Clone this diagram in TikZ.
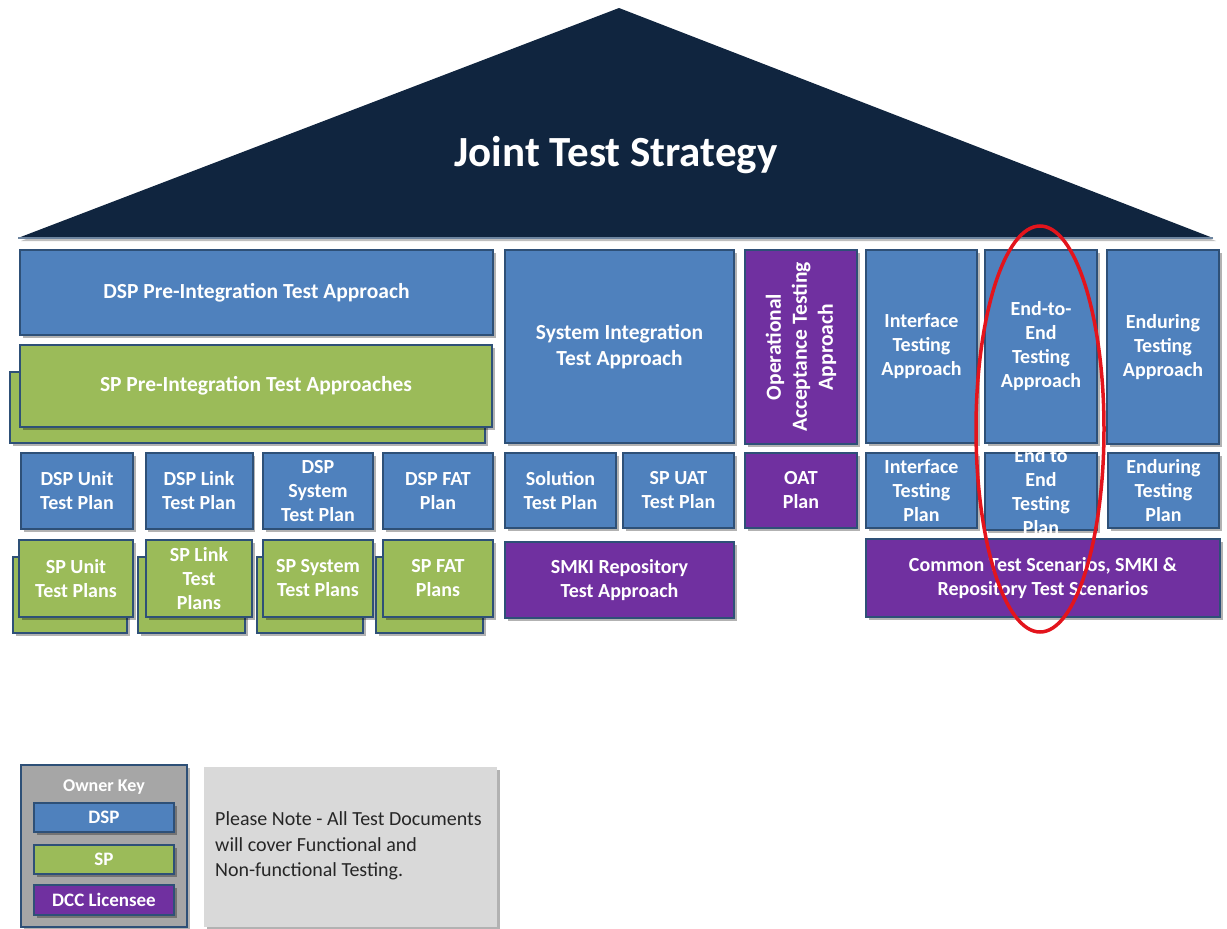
\documentclass[tikz,border=0pt]{standalone}
\usepackage{fontspec}
\setmainfont{Carlito}
\usetikzlibrary{shadows}
\definecolor{roofnavy}{HTML}{10253F}
\definecolor{dspblue}{HTML}{4F81BD}
\definecolor{spgreen}{HTML}{9BBB59}
\definecolor{dccpurple}{HTML}{7030A0}
\definecolor{edgeblue}{HTML}{2E5077}
\definecolor{keygrey}{HTML}{A6A6A6}
\definecolor{notegrey}{HTML}{D9D9D9}
\definecolor{ringred}{HTML}{E3141C}
\begin{document}
\begin{tikzpicture}[x=1pt,y=-1pt,
  box/.style={draw=edgeblue,line width=2pt,inner sep=1pt,align=center,
    text=white,font=\bfseries\fontsize{20}{24}\selectfont,
    drop shadow={shadow xshift=2.5pt,shadow yshift=-2.5pt,opacity=0.3,fill=black}},
  dsp/.style={box,fill=dspblue},
  sp/.style={box,fill=spgreen},
  dcc/.style={box,fill=dccpurple},
  big/.style={font=\bfseries\fontsize{21.5}{26}\selectfont},
  lbl/.style={align=center,text=white,inner sep=0pt,font=\bfseries\fontsize{20}{24}\selectfont},
  wh/.style 2 args={minimum width=#1pt,minimum height=#2pt}]
\useasboundingbox (0,0) rectangle (1227,929);

% roof
\fill[black,opacity=0.25] (21,241) -- (622,11) -- (1216,241) -- cycle;
\fill[roofnavy] (18,238) -- (619,8) -- (1213,238) -- cycle;
\draw[edgeblue!70!white,line width=1.2pt] (18,238) -- (1213,238);
\node[text=white,font=\bfseries\fontsize{43}{50}\selectfont] (title) at (616,155) {Joint Test Strategy};

% left block: pre-integration approaches
\node[dsp,big,wh={473}{85}] (dsppre) at (256.5,292.5) {DSP Pre-Integration Test Approach};
\node[sp,wh={475}{71}] (spprebk) at (247.5,407.5) {};
\node[sp,big,wh={472}{82}] (sppre) at (256,386) {SP Pre-Integration Test Approaches};

% left block: plans
\node[dsp,wh={112}{76}] (dspunit) at (77,491) {DSP Unit\\Test Plan};
\node[dsp,wh={107}{76}] (dsplink) at (199,491) {DSP Link\\Test Plan};
\node[dsp,wh={110}{76}] (dspsys) at (318,491) {DSP\\System\\Test Plan};
\node[dsp,wh={110}{76}] (dspfat) at (438,491) {DSP FAT\\Plan};

\node[sp,wh={114}{76}] (spunitbk) at (70,595) {};
\node[sp,wh={114}{77}] (spunit) at (76,578.5) {SP Unit\\Test Plans};
\node[sp,wh={107}{76}] (splinkbk) at (191.5,595) {};
\node[sp,wh={106}{77}] (splink) at (199,578.5) {SP Link\\Test\\Plans};
\node[sp,wh={106}{76}] (spsysbk) at (310,595) {};
\node[sp,wh={110}{77}] (spsys) at (318,578.5) {SP System\\Test Plans};
\node[sp,wh={107}{76}] (spfatbk) at (429.5,595) {};
\node[sp,wh={110}{77}] (spfat) at (438,578.5) {SP FAT\\Plans};

% system integration
\node[dsp,big,wh={229}{193}] (sysint) at (619.5,346.5) {System Integration\\Test Approach};
\node[dsp,wh={111}{75}] (soltp) at (560.5,490.5) {Solution\\Test Plan};
\node[dsp,wh={111}{75}] (spuat) at (678.5,490.5) {SP UAT\\Test Plan};
\node[dcc,wh={229}{76}] (smki) at (619.5,580) {SMKI Repository\\Test Approach};

% operational acceptance
\node[dcc,wh={112}{194}] (oata) at (801,347) {};
\node[lbl,rotate=90,font=\bfseries\fontsize{21.5}{26}\selectfont] (oatatext) at (oata.center) {Operational\\Acceptance Testing\\Approach};
\node[dcc,wh={112}{75}] (oatp) at (801,490.5) {OAT\\Plan};

% interface, end-to-end, enduring
\node[dsp,wh={111}{193}] (ifa) at (921.5,346.5) {Interface\\Testing\\Approach};
\node[dsp,wh={112}{193}] (e2ea) at (1041,346.5) {End-to-\\End\\Testing\\Approach};
\node[dsp,wh={112}{194}] (enda) at (1163,347) {Enduring\\Testing\\Approach};
\node[dsp,wh={111}{75}] (ifp) at (921.5,490.5) {Interface\\Testing\\Plan};
\node[dsp,wh={112}{77}] (e2ep) at (1041,491.5) {};
\node[lbl] (e2eptext) at (1041,492) {End to\\End\\Testing\\Plan};
\node[dsp,wh={111}{75}] (endp) at (1163.5,490.5) {Enduring\\Testing\\Plan};
\node[dcc,wh={354}{78}] (common) at (1043,578) {Common Test Scenarios, SMKI \&\\Repository Test Scenarios};

% highlight ring
\draw[ringred,line width=3.5pt] (1040,429) ellipse [x radius=64, y radius=203];

% owner key
\node[box,fill=keygrey,wh={166}{162}] (ownerkey) at (104,846) {};
\node[lbl,font=\bfseries\fontsize{18}{22}\selectfont] (ownerkeytitle) at (104,787) {Owner Key};
\node[dsp,font=\bfseries\fontsize{19}{22}\selectfont,wh={140}{29}] (keydsp) at (104,817.5) {DSP};
\node[sp,font=\bfseries\fontsize{19}{22}\selectfont,wh={140}{29}] (keysp) at (104,859.5) {SP};
\node[dcc,font=\bfseries\fontsize{19}{22}\selectfont,wh={140}{30}] (keydcc) at (104,900) {DCC Licensee};

% note
\node[fill=notegrey,wh={293}{160},
  drop shadow={shadow xshift=2.5pt,shadow yshift=-2.5pt,opacity=0.3,fill=black}] (note) at (350.5,847) {};
\node[anchor=west,align=left,inner sep=0pt,text=black!85,font=\fontsize{20}{25.5}\selectfont] (notetext) at (215,846)
  {Please Note - All Test Documents\\will cover Functional and\\Non-functional Testing.};
\end{tikzpicture}
\end{document}
